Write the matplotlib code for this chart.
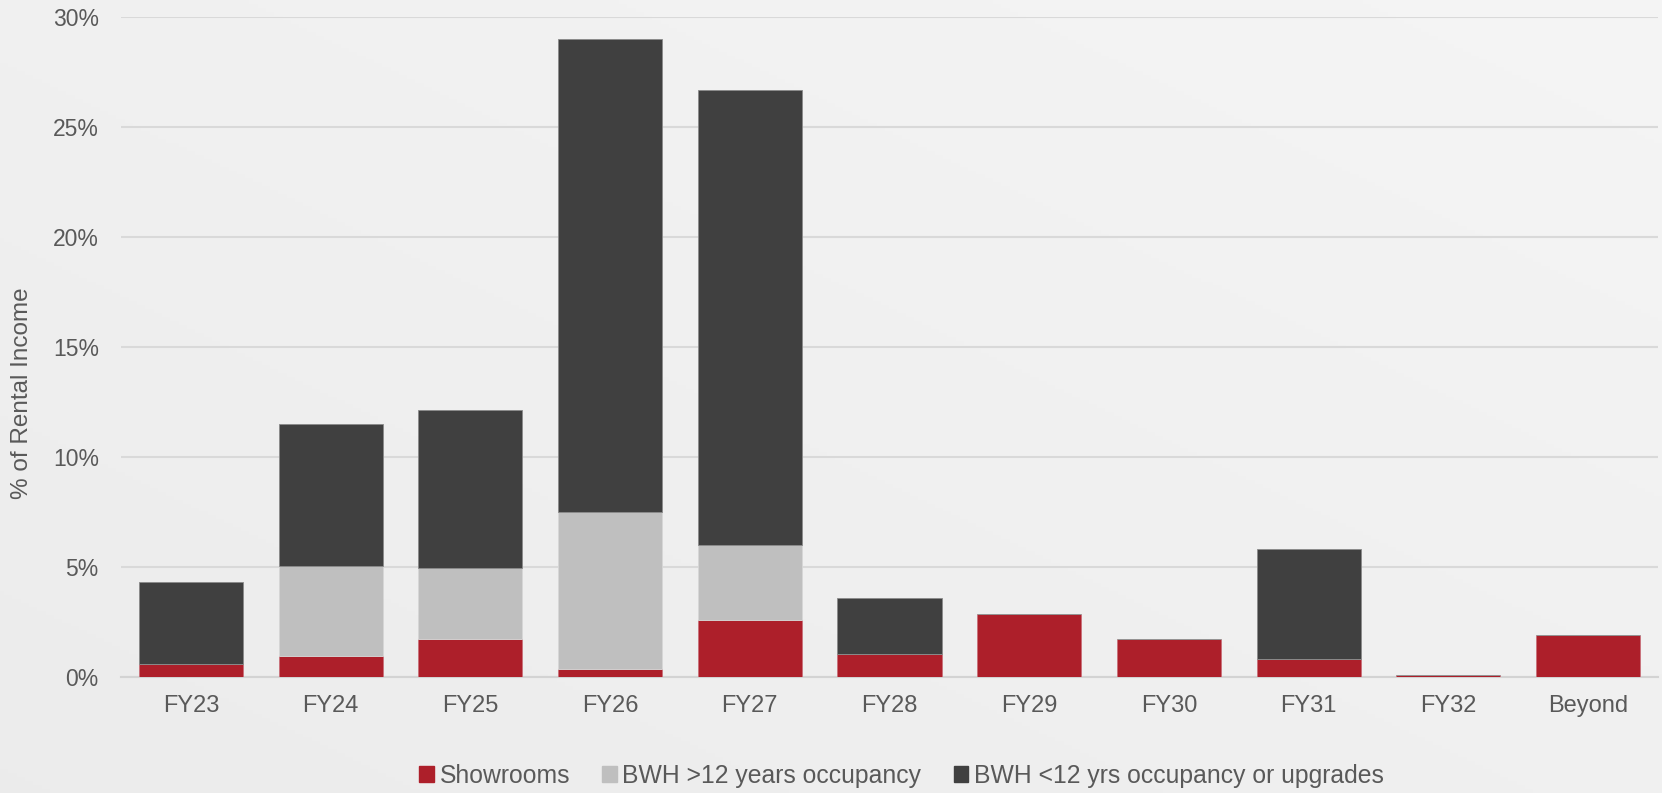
import numpy as np
import matplotlib
matplotlib.use('Agg')
import matplotlib.pyplot as plt
from matplotlib.patches import Patch

plt.rcParams['font.family'] = ['Liberation Sans', 'DejaVu Sans']

# data (% of rental income)
years = ['FY23', 'FY24', 'FY25', 'FY26', 'FY27', 'FY28', 'FY29', 'FY30', 'FY31', 'FY32', 'Beyond']
showrooms = [0.6, 0.95, 1.75, 0.35, 2.6, 1.05, 2.85, 1.75, 0.8, 0.1, 1.9]
bwh_old = [0, 4.1, 3.2, 7.15, 3.4, 0, 0, 0, 0, 0, 0]
bwh_new = [3.7, 6.45, 7.2, 21.5, 20.7, 2.55, 0, 0, 5.0, 0, 0]

c_red = '#ad1f2a'
c_light = '#bfbfbf'
c_dark = '#404040'
txt = '#595959'

fig = plt.figure(figsize=(16.62, 7.93), dpi=100)

# light marble-ish background
bg = fig.add_axes([0, 0, 1, 1], zorder=-10)
gx, gy = np.meshgrid(np.linspace(0, 1, 400), np.linspace(0, 1, 200))
lum = 0.925 + 0.035 * (0.5 * gx + 0.5 * gy)
img = np.dstack([lum, lum, lum])
bg.imshow(img, aspect='auto', extent=[0, 1, 0, 1], origin='lower')
bg.axis('off')

ax = fig.add_axes([121 / 1662, 1 - 677 / 793, (1658 - 121) / 1662, (677 - 17) / 793])
ax.patch.set_alpha(0)

x = np.arange(len(years))
s = np.array(showrooms)
o = np.array(bwh_old)
n = np.array(bwh_new)
w = 0.745
ax.bar(x, s, w, color=c_red, edgecolor='#c9707a', linewidth=0.6, zorder=3)
ax.bar(x, o, w, bottom=s, color=c_light, edgecolor='#d6d6d6', linewidth=0.6, zorder=3)
ax.bar(x, n, w, bottom=s + o, color=c_dark, edgecolor='#8a8a8a', linewidth=0.6, zorder=3)

ax.set_xlim(-0.5, 10.5)
ax.set_ylim(0, 30)
ax.set_yticks(np.arange(0, 31, 5))
ax.set_yticklabels([f'{v}%' for v in range(0, 31, 5)])
ax.set_xticks(x)
ax.set_xticklabels(years)
ax.grid(axis='y', color='#d9d9d9', linewidth=1.5, zorder=0)
for sp in ['top', 'right', 'left']:
    ax.spines[sp].set_visible(False)
ax.spines['bottom'].set_color('#d3d3d3')
ax.spines['bottom'].set_linewidth(1.5)
ax.tick_params(axis='x', length=0, pad=13, labelsize=17, labelcolor=txt)
ax.tick_params(axis='y', length=0, pad=16, labelsize=16.5, labelcolor=txt)

ax.set_ylabel('% of Rental Income', fontsize=17.5, color=txt)
ax.yaxis.set_label_coords(-0.057, 0.43)

handles = [Patch(color=c_red, label='Showrooms'),
           Patch(color=c_light, label='BWH >12 years occupancy'),
           Patch(color=c_dark, label='BWH <12 yrs occupancy or upgrades')]
leg = fig.legend(handles=handles, loc='center', bbox_to_anchor=(0.5424, 0.0214), ncol=3,
                 frameon=False, fontsize=17.8, handlelength=0.6, handleheight=0.6,
                 handletextpad=0.22, columnspacing=1.3, borderpad=0)
for t in leg.get_texts():
    t.set_color(txt)

fig.savefig('out.png', dpi=100)
